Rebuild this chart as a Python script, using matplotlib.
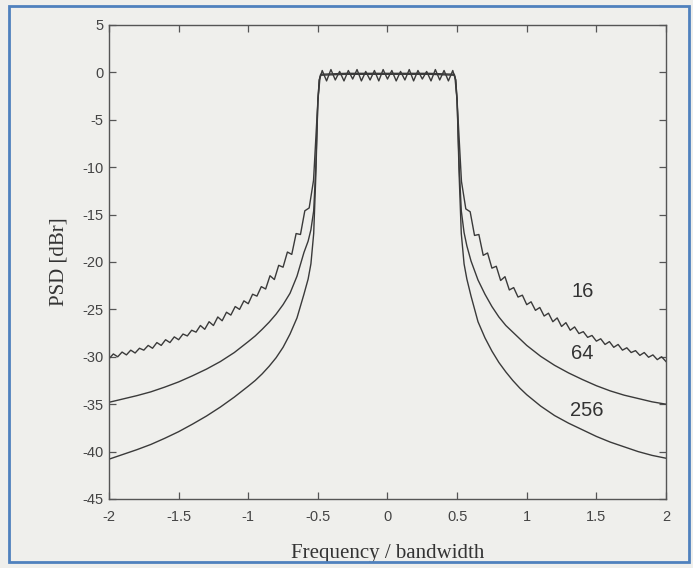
import numpy as np
import matplotlib
matplotlib.use("Agg")
import matplotlib.pyplot as plt
from matplotlib.patches import Rectangle

plt.rcParams['axes.unicode_minus'] = False

# ---------------- data ----------------
# N = 16 sub-carriers : left side-lobes, edge, flat top, edge, right side-lobes
x16_left = np.linspace(-2.0, -0.53125, 48)
psd16_left = [-30.2, -29.7, -30.0, -29.5, -29.8, -29.3, -29.6, -29.1,
              -29.3, -28.8, -29.1, -28.5, -28.8, -28.2, -28.5, -27.9,
              -28.2, -27.6, -27.8, -27.2, -27.4, -26.7, -27.1, -26.3,
              -26.7, -25.8, -26.2, -25.3, -25.6, -24.7, -25.0, -24.1,
              -24.4, -23.4, -23.6, -22.6, -22.85, -21.45, -21.85, -20.35,
              -20.55, -18.95, -19.2, -17.0, -17.1, -14.6, -14.3, -11.4]
x16_edge_left = [-0.515, -0.5, -0.485]
psd16_edge_left = [-7.0, -3.0, -0.6]
x16_top = np.linspace(-0.46875, 0.46875, 31)
psd16_top = [0.2, -0.9, 0.3, -0.8, 0.1, -0.9, 0.2, -0.7, 0.3, -0.9, 0.1,
             -0.8, 0.2, -0.9, 0.3, -0.7, 0.2, -0.9, 0.1, -0.8, 0.3, -0.9,
             0.2, -0.7, 0.1, -0.9, 0.3, -0.8, 0.2, -0.9, 0.2]
x16_edge_right = [0.485, 0.5, 0.515]
psd16_edge_right = [-0.6, -3.0, -7.0]
x16_right = np.linspace(0.53125, 2.0, 48)
psd16_right = [-11.5, -14.4, -14.7, -17.2, -17.1, -19.3, -19.05, -20.65,
               -20.45, -21.95, -21.55, -22.95, -22.7, -23.7, -23.5, -24.5,
               -24.2, -25.1, -24.8, -25.7, -25.4, -26.3, -25.9, -26.8,
               -26.4, -27.2, -26.85, -27.55, -27.35, -27.95, -27.75, -28.35,
               -28.1, -28.7, -28.4, -29.0, -28.7, -29.3, -29.05, -29.55,
               -29.35, -29.85, -29.55, -30.05, -29.8, -30.3, -30.0, -30.5]

# N = 64 and N = 256 (smooth curves)
x_smooth = [-2.0, -1.9, -1.8, -1.7, -1.6, -1.5, -1.4, -1.3, -1.2, -1.1,
            -1.0, -0.95, -0.9, -0.85, -0.8, -0.75, -0.7, -0.65, -0.6, -0.57,
            -0.55, -0.53, -0.515, -0.5, -0.49, -0.48,
            -0.3, 0.0, 0.3,
            0.48, 0.49, 0.5, 0.515, 0.53, 0.55, 0.57, 0.6, 0.65, 0.7,
            0.75, 0.8, 0.85, 0.9, 0.95, 1.0, 1.1, 1.2, 1.3, 1.4,
            1.5, 1.6, 1.7, 1.8, 1.9, 2.0]
psd64 = [-34.8, -34.45, -34.1, -33.7, -33.2, -32.65, -32.0, -31.3, -30.5, -29.55,
         -28.4, -27.8, -27.1, -26.35, -25.5, -24.5, -23.3, -21.5, -19.0, -17.8,
         -16.6, -14.6, -10.0, -3.0, -0.8, -0.3,
         -0.2, -0.2, -0.2,
         -0.3, -0.8, -3.0, -10.0, -14.6, -16.9, -18.3, -19.9, -21.9, -23.4,
         -24.7, -25.8, -26.7, -27.4, -28.1, -28.8, -29.95, -30.9, -31.7, -32.4,
         -33.05, -33.6, -34.05, -34.4, -34.75, -35.0]
psd256 = [-40.8, -40.3, -39.8, -39.25, -38.6, -37.9, -37.1, -36.25, -35.3, -34.25,
          -33.1, -32.5, -31.8, -31.0, -30.1, -29.0, -27.6, -25.9, -23.4, -21.8,
          -20.2, -17.0, -11.0, -3.0, -0.8, -0.2,
          -0.1, -0.1, -0.1,
          -0.2, -0.8, -3.0, -11.0, -17.0, -20.2, -21.8, -23.6, -26.3, -28.0,
          -29.4, -30.6, -31.6, -32.5, -33.3, -34.0, -35.2, -36.2, -37.0, -37.7,
          -38.4, -39.0, -39.5, -40.0, -40.4, -40.7]

curve_labels = ["16", "64", "256"]
label_x = [1.40, 1.40, 1.43]
label_y = [-23.1, -29.7, -35.7]

x_ticks = [-2, -1.5, -1, -0.5, 0, 0.5, 1, 1.5, 2]
x_tick_labels = ["-2", "-1.5", "-1", "-0.5", "0", "0.5", "1", "1.5", "2"]
y_ticks = [5, 0, -5, -10, -15, -20, -25, -30, -35, -40, -45]
y_tick_labels = ["5", "0", "-5", "-10", "-15", "-20", "-25", "-30", "-35", "-40", "-45"]

# ---------------- figure ----------------
bg = '#efefec'
ink = '#3a3a3a'
fig = plt.figure(figsize=(6.93, 5.68), dpi=100, facecolor=bg)
ax = fig.add_axes([0.1573, 0.1215, 0.8037, 0.8345], facecolor=bg)

x16 = np.concatenate([x16_left, x16_edge_left, x16_top, x16_edge_right, x16_right])
y16 = np.concatenate([psd16_left, psd16_edge_left, psd16_top, psd16_edge_right, psd16_right])

ax.plot(x16, y16, color=ink, lw=1.0)
ax.plot(x_smooth, psd64, color=ink, lw=1.0)
ax.plot(x_smooth, psd256, color=ink, lw=1.0)

for t, lx, ly in zip(curve_labels, label_x, label_y):
    ax.text(lx, ly, t, ha='center', va='center', fontsize=14.5,
            family='Liberation Sans', color='#333333')

ax.set_xlim(-2, 2)
ax.set_ylim(-45, 5)
ax.set_xticks(x_ticks)
ax.set_xticklabels(x_tick_labels)
ax.set_yticks(y_ticks)
ax.set_yticklabels(y_tick_labels)

for lab in ax.get_xticklabels() + ax.get_yticklabels():
    lab.set_family('Liberation Sans')
    lab.set_fontsize(10.5)
    lab.set_color('#444444')

ax.tick_params(axis='both', direction='in', length=5, width=0.9, color='#555555',
               top=True, right=True)
ax.tick_params(axis='x', pad=8)
ax.tick_params(axis='y', pad=4)
for s in ax.spines.values():
    s.set_color('#555555')
    s.set_linewidth(1.0)

ax.set_xlabel("Frequency / bandwidth", family='Liberation Serif', fontsize=15,
              color='#333333', labelpad=14)
ax.set_ylabel("PSD [dBr]", family='Liberation Serif', fontsize=15,
              color='#333333', labelpad=10)

# blue picture frame
fig.patches.append(Rectangle((9 / 693, 6 / 568), 680 / 693, 556 / 568,
                             transform=fig.transFigure, fill=False,
                             edgecolor='#4f81bd', lw=2.0))

fig.savefig("out.png", dpi=100, facecolor=bg)
